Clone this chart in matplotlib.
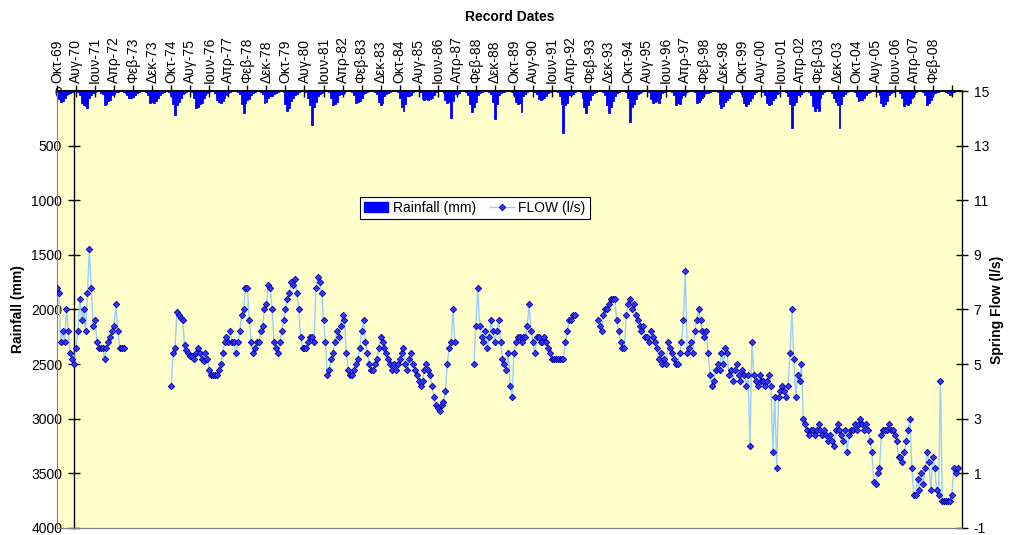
import numpy as np
import matplotlib
matplotlib.use("Agg")
import matplotlib.pyplot as plt
from matplotlib.patches import Patch
from matplotlib.lines import Line2D

plt.rcParams['font.family'] = ['Liberation Sans', 'DejaVu Sans']
plt.rcParams['axes.unicode_minus'] = False

# ---------------- data ----------------
# x axis: consecutive months starting October 1969 (month index 0)
tick_labels = ["Οκτ-69", "Αυγ-70", "Ιουν-71", "Απρ-72", "Φεβ-73", "Δεκ-73", "Οκτ-74", "Αυγ-75",
               "Ιουν-76", "Απρ-77", "Φεβ-78", "Δεκ-78", "Οκτ-79", "Αυγ-80", "Ιουν-81", "Απρ-82",
               "Φεβ-83", "Δεκ-83", "Οκτ-84", "Αυγ-85", "Ιουν-86", "Απρ-87", "Φεβ-88", "Δεκ-88",
               "Οκτ-89", "Αυγ-90", "Ιουν-91", "Απρ-92", "Φεβ-93", "Δεκ-93", "Οκτ-94", "Αυγ-95",
               "Ιουν-96", "Απρ-97", "Φεβ-98", "Δεκ-98", "Οκτ-99", "Αυγ-00", "Ιουν-01", "Απρ-02",
               "Φεβ-03", "Δεκ-03", "Οκτ-04", "Αυγ-05", "Ιουν-06", "Απρ-07", "Φεβ-08", ""]

# monthly rainfall (mm), hydrological years Oct..Sep
rain_1970s = [60, 70, 100, 95, 60, 40, 30, 15, 5, 0, 0, 10,
              40, 110, 130, 140, 155, 60, 40, 20, 5, 0, 0, 15,
              30, 130, 120, 90, 85, 40, 30, 10, 5, 0, 0, 10,
              20, 35, 60, 64, 55, 40, 20, 10, 0, 0, 0, 10,
              40, 110, 100, 110, 90, 60, 40, 20, 5, 0, 0, 10,
              50, 120, 220, 130, 100, 60, 30, 15, 5, 0, 0, 10,
              60, 155, 150, 120, 110, 60, 40, 20, 10, 0, 0, 20,
              80, 100, 110, 90, 60, 40, 20, 10, 0, 0, 0, 5,
              30, 120, 200, 110, 80, 70, 40, 20, 5, 0, 0, 10,
              30, 110, 100, 60, 50, 45, 30, 20, 10, 0, 0, 10]
rain_1980s = [120, 180, 160, 90, 60, 40, 25, 10, 0, 0, 0, 10,
              60, 130, 310, 150, 100, 45, 30, 20, 5, 0, 0, 10,
              60, 125, 120, 100, 40, 25, 25, 15, 0, 0, 0, 10,
              40, 110, 100, 90, 60, 30, 20, 10, 0, 0, 0, 5,
              30, 100, 125, 110, 50, 30, 20, 10, 0, 0, 0, 10,
              60, 150, 185, 120, 50, 45, 40, 10, 0, 0, 0, 10,
              70, 80, 75, 80, 70, 60, 40, 10, 0, 0, 0, 20,
              80, 110, 100, 247, 90, 30, 30, 15, 0, 0, 0, 10,
              40, 120, 190, 150, 100, 40, 20, 10, 0, 0, 0, 5,
              30, 100, 255, 120, 40, 20, 10, 5, 0, 0, 0, 5]
rain_1990s = [40, 100, 120, 110, 195, 50, 30, 10, 0, 0, 0, 5,
              30, 70, 80, 75, 60, 50, 20, 10, 0, 0, 0, 10,
              50, 120, 385, 130, 110, 40, 35, 30, 10, 0, 0, 10,
              60, 150, 200, 130, 80, 40, 20, 10, 0, 0, 0, 5,
              40, 130, 200, 150, 90, 50, 20, 10, 0, 0, 0, 10,
              60, 285, 150, 120, 70, 30, 20, 10, 0, 0, 0, 10,
              70, 110, 100, 90, 110, 60, 20, 10, 0, 0, 0, 10,
              40, 125, 110, 120, 60, 40, 30, 10, 0, 0, 0, 10,
              110, 100, 80, 60, 30, 20, 15, 10, 0, 0, 0, 10,
              120, 155, 140, 100, 80, 60, 30, 10, 0, 0, 0, 10]
rain_2000s = [30, 110, 135, 120, 90, 60, 30, 10, 0, 0, 0, 10,
              40, 110, 125, 120, 80, 60, 30, 20, 0, 0, 0, 10,
              50, 120, 340, 130, 100, 40, 35, 30, 10, 0, 0, 10,
              40, 140, 185, 160, 180, 60, 30, 10, 0, 0, 0, 20,
              60, 100, 130, 340, 120, 50, 30, 10, 0, 0, 0, 10,
              50, 90, 80, 85, 60, 40, 20, 10, 0, 0, 0, 10,
              40, 110, 135, 120, 90, 40, 20, 10, 0, 0, 0, 20,
              60, 135, 120, 130, 110, 60, 30, 10, 0, 0, 0, 10,
              40, 125, 110, 80, 30, 20, 10, 5, 0, 0, 0, 5,
              20, 40, 10, 5, 0, 0]

# spring flow (l/s), monthly, in continuous segments (start month index, values)
flow_seg1_start = 0     # Oct-1969
flow_seg1 = [7.8, 7.6, 5.8, 6.2, 5.8, 7.0, 6.2, 5.4, 5.2, 5.0, 5.6, 6.2, 7.4, 6.6, 7.0, 6.2,
             7.6, 9.2, 7.8, 6.4, 6.6, 5.8, 5.6, 5.6, 5.6, 5.2, 5.6, 5.8, 6.0, 6.2, 6.4, 7.2,
             6.2, 5.6, 5.6, 5.6]
flow_seg2_start = 60    # Oct-1974
flow_seg2 = [4.2, 5.4, 5.6, 6.9, 6.8, 6.7, 6.6, 5.7, 5.5, 5.4, 5.3, 5.3, 5.2, 5.4, 5.6, 5.4,
             5.2, 5.1, 5.4, 5.2, 4.8, 4.6, 4.6, 4.6, 4.6, 4.8, 5.0, 5.4, 5.8, 6.0, 5.8, 6.2,
             5.8, 5.8, 5.4, 5.8, 6.2, 6.8, 7.0, 7.8, 7.8, 6.6, 5.8, 5.4, 5.6, 5.8, 5.8, 6.2,
             6.4, 7.0, 7.2, 7.9, 7.8, 7.0, 5.8, 5.6, 5.4, 5.8, 6.2, 6.6, 7.0, 7.4, 7.6, 8.0,
             7.9, 8.1, 7.6, 7.0, 6.0, 5.6, 5.6, 5.6, 5.8, 6.0, 6.0, 5.8, 7.8, 8.2, 8.0, 7.6,
             6.6, 5.8, 4.6, 4.8, 5.2, 5.4, 5.8, 6.2, 6.0, 6.4, 6.8, 6.6, 5.4, 4.8, 4.6, 4.6,
             4.8, 5.0, 5.2, 5.6, 6.2, 6.6, 5.8, 5.4, 5.0, 4.8, 4.8, 5.0, 5.2, 5.6, 6.0, 5.8,
             5.6, 5.4, 5.2, 5.0, 4.8, 5.0, 4.8, 5.0, 5.2, 5.4, 5.6, 5.0, 4.8, 5.2, 5.4, 5.0,
             4.8, 4.6, 4.4, 4.2, 4.4, 4.8, 5.0, 4.8, 4.6, 4.2, 3.8, 3.5, 3.4, 3.3, 3.5, 3.6,
             4.0, 5.0, 5.6, 5.8, 7.0, 5.8]
flow_seg3_start = 219   # Jan-1988
flow_seg3 = [5.0, 6.4, 7.8, 6.4, 6.0, 5.8, 6.2, 5.6, 6.0, 6.6, 6.2, 5.8, 6.2, 6.6, 5.8, 5.2,
             5.0, 4.8, 5.4, 4.2, 3.8, 5.4, 5.8, 6.0, 6.0, 5.8, 6.0, 6.0, 6.4, 7.2, 6.2, 5.8,
             5.4, 6.0, 6.0, 5.8, 5.8, 6.0, 5.8, 5.6, 5.4, 5.2, 5.2, 5.2, 5.2, 5.2, 5.2, 5.2,
             5.8, 6.2, 6.6, 6.6, 6.8, 6.8]
flow_seg4_start = 284   # Jun-1993
flow_seg4 = [6.6, 6.4, 6.2, 6.8, 7.0, 7.0, 7.2, 7.4, 7.4, 7.4, 6.6, 6.2, 5.8, 5.6, 5.6, 6.8,
             7.2, 7.4, 7.0, 7.2, 6.8, 6.6, 6.4, 6.2, 6.4, 6.0, 6.0, 5.8, 6.2, 6.0, 5.8, 5.6,
             5.2, 5.4, 5.0, 5.2, 5.0, 5.8, 5.6, 5.4, 5.2, 5.0, 5.0, 5.4, 5.8, 6.6, 8.4, 5.4,
             5.6, 5.8, 5.4, 6.2, 6.6, 7.0, 6.6, 6.2, 6.0, 6.2, 5.4, 4.6, 4.2, 4.4, 4.8, 5.0,
             4.8, 5.4, 5.0, 5.6, 5.4, 4.6, 4.8, 4.4, 4.8, 5.0, 4.6, 4.4, 4.8, 4.6, 4.2, 4.6,
             2.0, 5.8, 4.6, 4.4, 4.2, 4.6, 4.4, 4.4, 4.2, 4.4, 4.6, 4.2, 1.8, 3.8, 1.2, 3.8,
             4.0, 4.2, 4.0, 3.8, 4.2, 5.4, 7.0, 5.2, 3.8, 4.6, 4.4, 5.0, 3.0, 2.8, 2.6, 2.4,
             2.6, 2.6, 2.4, 2.6, 2.8, 2.6, 2.4, 2.6, 2.4, 2.2, 2.4, 2.2, 2.0, 2.6, 2.8, 2.6,
             2.4, 2.2, 2.6, 1.8, 2.4, 2.6, 2.6, 2.8, 2.6, 2.8, 3.0, 2.8, 2.6, 2.8, 2.6, 2.2,
             1.8, 0.7, 0.6, 1.0, 1.2, 2.4, 2.6, 2.6, 2.6, 2.8, 2.6, 2.6, 2.4, 2.2, 1.6, 1.6,
             1.4, 1.8, 2.2, 2.6, 3.0, 1.2, 0.2, 0.2, 0.8, 0.4, 1.0, 0.6, 1.2, 1.8, 1.4, 0.4,
             1.6, 1.2, 0.4, 0.2, 4.4, 0.0, 0.0, 0.0, 0.0, 0.0, 0.2, 1.2, 1.0, 1.2]

# ---------------- figure ----------------
rain = np.array(rain_1970s + rain_1980s + rain_1990s + rain_2000s, dtype=float)
months = np.arange(len(rain))

fig = plt.figure(figsize=(10.10, 5.35), dpi=100)
ax = fig.add_axes([0.0564, 0.0131, 0.8960, 0.8168])
ax.set_facecolor('#FFFFCC')

ax.bar(months, rain, width=1.0, color='#0000FF', edgecolor='#0000FF', linewidth=0.6,
       label='Rainfall (mm)', zorder=2)
ax.set_ylim(4000, 0)
ax.set_yticks(np.arange(0, 4001, 500))
ax.set_xlim(0, 475.3)

ax.xaxis.tick_top()
ax.xaxis.set_label_position('top')
ax.set_xticks(np.arange(0, 10 * len(tick_labels), 10))
ax.set_xticklabels(tick_labels, rotation=90, fontsize=10)
ax.tick_params(axis='x', direction='inout', length=9, width=1, pad=1)
ax.set_xlabel('Record Dates', fontsize=10, fontweight='bold', labelpad=11)

ax.spines['left'].set_position(('axes', 0.0188))
ax.spines['left'].set_linewidth(1)
ax.spines['right'].set_visible(False)
ax.spines['bottom'].set_color('#808080')
ax.spines['top'].set_linewidth(1.2)
ax.tick_params(axis='y', direction='inout', length=9, width=1, labelsize=10, pad=4)
ax.set_ylabel('Rainfall (mm)', fontsize=10, fontweight='bold', labelpad=4)

ax2 = ax.twinx()
flow_x, flow_y = [], []
for start, seg in [(flow_seg1_start, flow_seg1), (flow_seg2_start, flow_seg2),
                   (flow_seg3_start, flow_seg3), (flow_seg4_start, flow_seg4)]:
    flow_x.extend(list(start + np.arange(len(seg))) + [np.nan])
    flow_y.extend(list(seg) + [np.nan])
ax2.plot(flow_x, flow_y, color='#99CCFF', linewidth=1, marker='D', markersize=3.3,
         markerfacecolor='#3333FF', markeredgecolor='#000099', markeredgewidth=0.6,
         label='FLOW (l/s)', zorder=3)
ax2.set_ylim(-1, 15)
ax2.set_yticks(np.arange(-1, 16, 2))
ax2.tick_params(axis='y', direction='inout', length=9, width=1, labelsize=10, pad=4)
ax2.set_ylabel('Spring Flow (l/s)', fontsize=10, fontweight='bold', labelpad=1)
ax2.spines['left'].set_color('#808080')
ax2.spines['bottom'].set_color('#808080')
ax2.spines['right'].set_linewidth(1)
ax2.spines['top'].set_linewidth(1.2)

handles = [Patch(facecolor='#0000FF', edgecolor='#0000FF'),
           Line2D([], [], color='#99CCFF', linewidth=1, marker='D', markersize=3.3,
                  markerfacecolor='#3333FF', markeredgecolor='#000099', markeredgewidth=0.6)]
leg = ax2.legend(handles, ['Rainfall (mm)', 'FLOW (l/s)'], loc='center', ncol=2,
                 bbox_to_anchor=(0.4617, 0.732), fontsize=10, frameon=True, fancybox=False,
                 framealpha=1, edgecolor='black', handlelength=1.75, columnspacing=1.0,
                 borderpad=0.3, handletextpad=0.3)
leg.get_frame().set_linewidth(0.8)

fig.savefig('out.png', dpi=100)
